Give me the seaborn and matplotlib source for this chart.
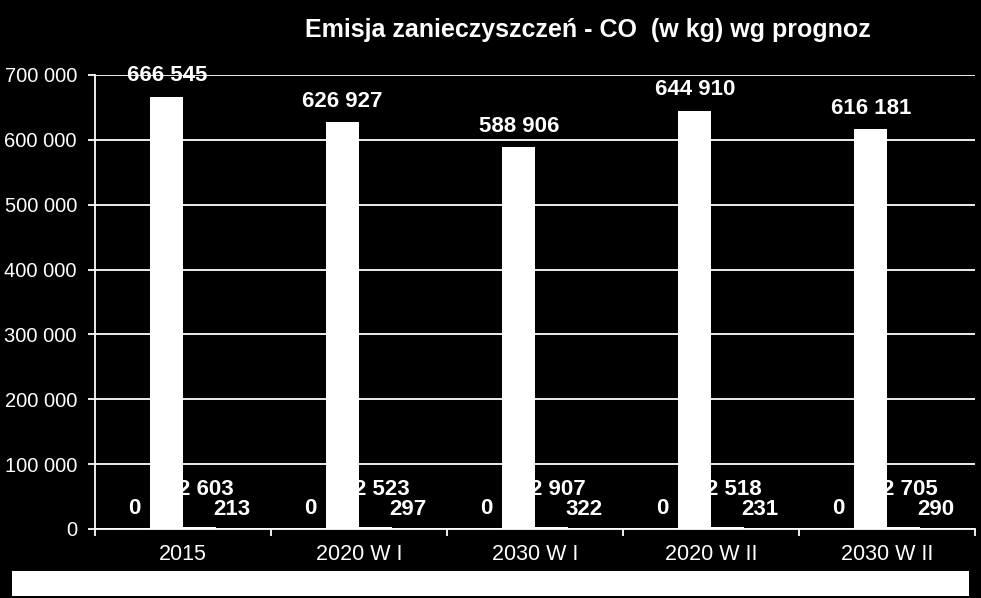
import pandas as pd
import numpy as np
import matplotlib
matplotlib.use('Agg')
import matplotlib.pyplot as plt
import seaborn as sns
from matplotlib.patches import Rectangle
from matplotlib.ticker import FuncFormatter, FixedLocator

# dane
kategorie = ['2015', '2020 W I', '2030 W I', '2020 W II', '2030 W II']
serie = ['seria 1', 'seria 2', 'seria 3', 'seria 4']
seria_1 = [0, 0, 0, 0, 0]
seria_2 = [666545, 626927, 588906, 644910, 616181]
seria_3 = [2603, 2523, 2907, 2518, 2705]
seria_4 = [213, 297, 322, 231, 290]

df = pd.DataFrame({
    'rok': kategorie * 4,
    'seria': np.repeat(serie, len(kategorie)),
    'emisja': seria_1 + seria_2 + seria_3 + seria_4,
})

sns.set_style('dark')
plt.rcParams['font.family'] = ['Liberation Sans', 'DejaVu Sans']

fig = plt.figure(figsize=(9.81, 5.98), dpi=100, facecolor='black')
ax = fig.add_axes([95/981, 69/598, 880/981, 454/598])
ax.set_facecolor('black')

sns.barplot(data=df, x='rok', y='emisja', hue='seria', palette=['white']*4,
            width=0.74, gap=0, saturation=1, linewidth=0, ax=ax, legend=False)

ax.set_ylim(0, 700000)
ax.set_xlim(-0.5, 4.5)
ax.set_yticks(range(0, 700001, 100000))
ax.yaxis.set_major_formatter(FuncFormatter(lambda v, p: f'{int(v):,}'.replace(',', ' ')))
ax.grid(axis='y', color='white', linewidth=1.3)
ax.grid(axis='x', visible=False)
ax.set_axisbelow(True)
ax.set_xlabel('')
ax.set_ylabel('')
for s in ['top', 'right']:
    ax.spines[s].set_visible(False)
for s in ['left', 'bottom']:
    ax.spines[s].set_visible(True)
    ax.spines[s].set_color('white')
    ax.spines[s].set_linewidth(1.3)

ax.tick_params(axis='y', colors='white', labelsize=14.5, length=5, width=1.3,
               direction='out', left=True, pad=8)
ax.tick_params(axis='x', colors='white', labelsize=15.5, length=0, pad=11)
ax.xaxis.set_minor_locator(FixedLocator(np.arange(-0.5, 5, 1)))
ax.tick_params(axis='x', which='minor', bottom=True, length=5, width=1.3, color='white')

# etykiety wartosci
odstep = {'seria 1': (0, 15), 'seria 2': (0, 15), 'seria 3': (5, 27), 'seria 4': (0, 14)}
for cont, nazwa in zip(ax.containers, serie):
    for bar in cont:
        h = bar.get_height()
        ax.annotate(f'{int(h):,}'.replace(',', ' '),
                    (bar.get_x() + bar.get_width() / 2, h),
                    xytext=odstep[nazwa], textcoords='offset points',
                    ha='center', va='center', color='white',
                    fontsize=16, fontweight='bold', annotation_clip=False)

fig.text(588/981, 1 - 30/598, 'Emisja zanieczyszczeń - CO  (w kg) wg prognoz',
         ha='center', va='center', color='white', fontsize=18, fontweight='bold')

# puste pole legendy
fig.add_artist(Rectangle((12/981, 2/598), 957/981, 25/598,
                         transform=fig.transFigure, facecolor='white', edgecolor='none'))

fig.savefig('out.png', dpi=100, facecolor='black')
